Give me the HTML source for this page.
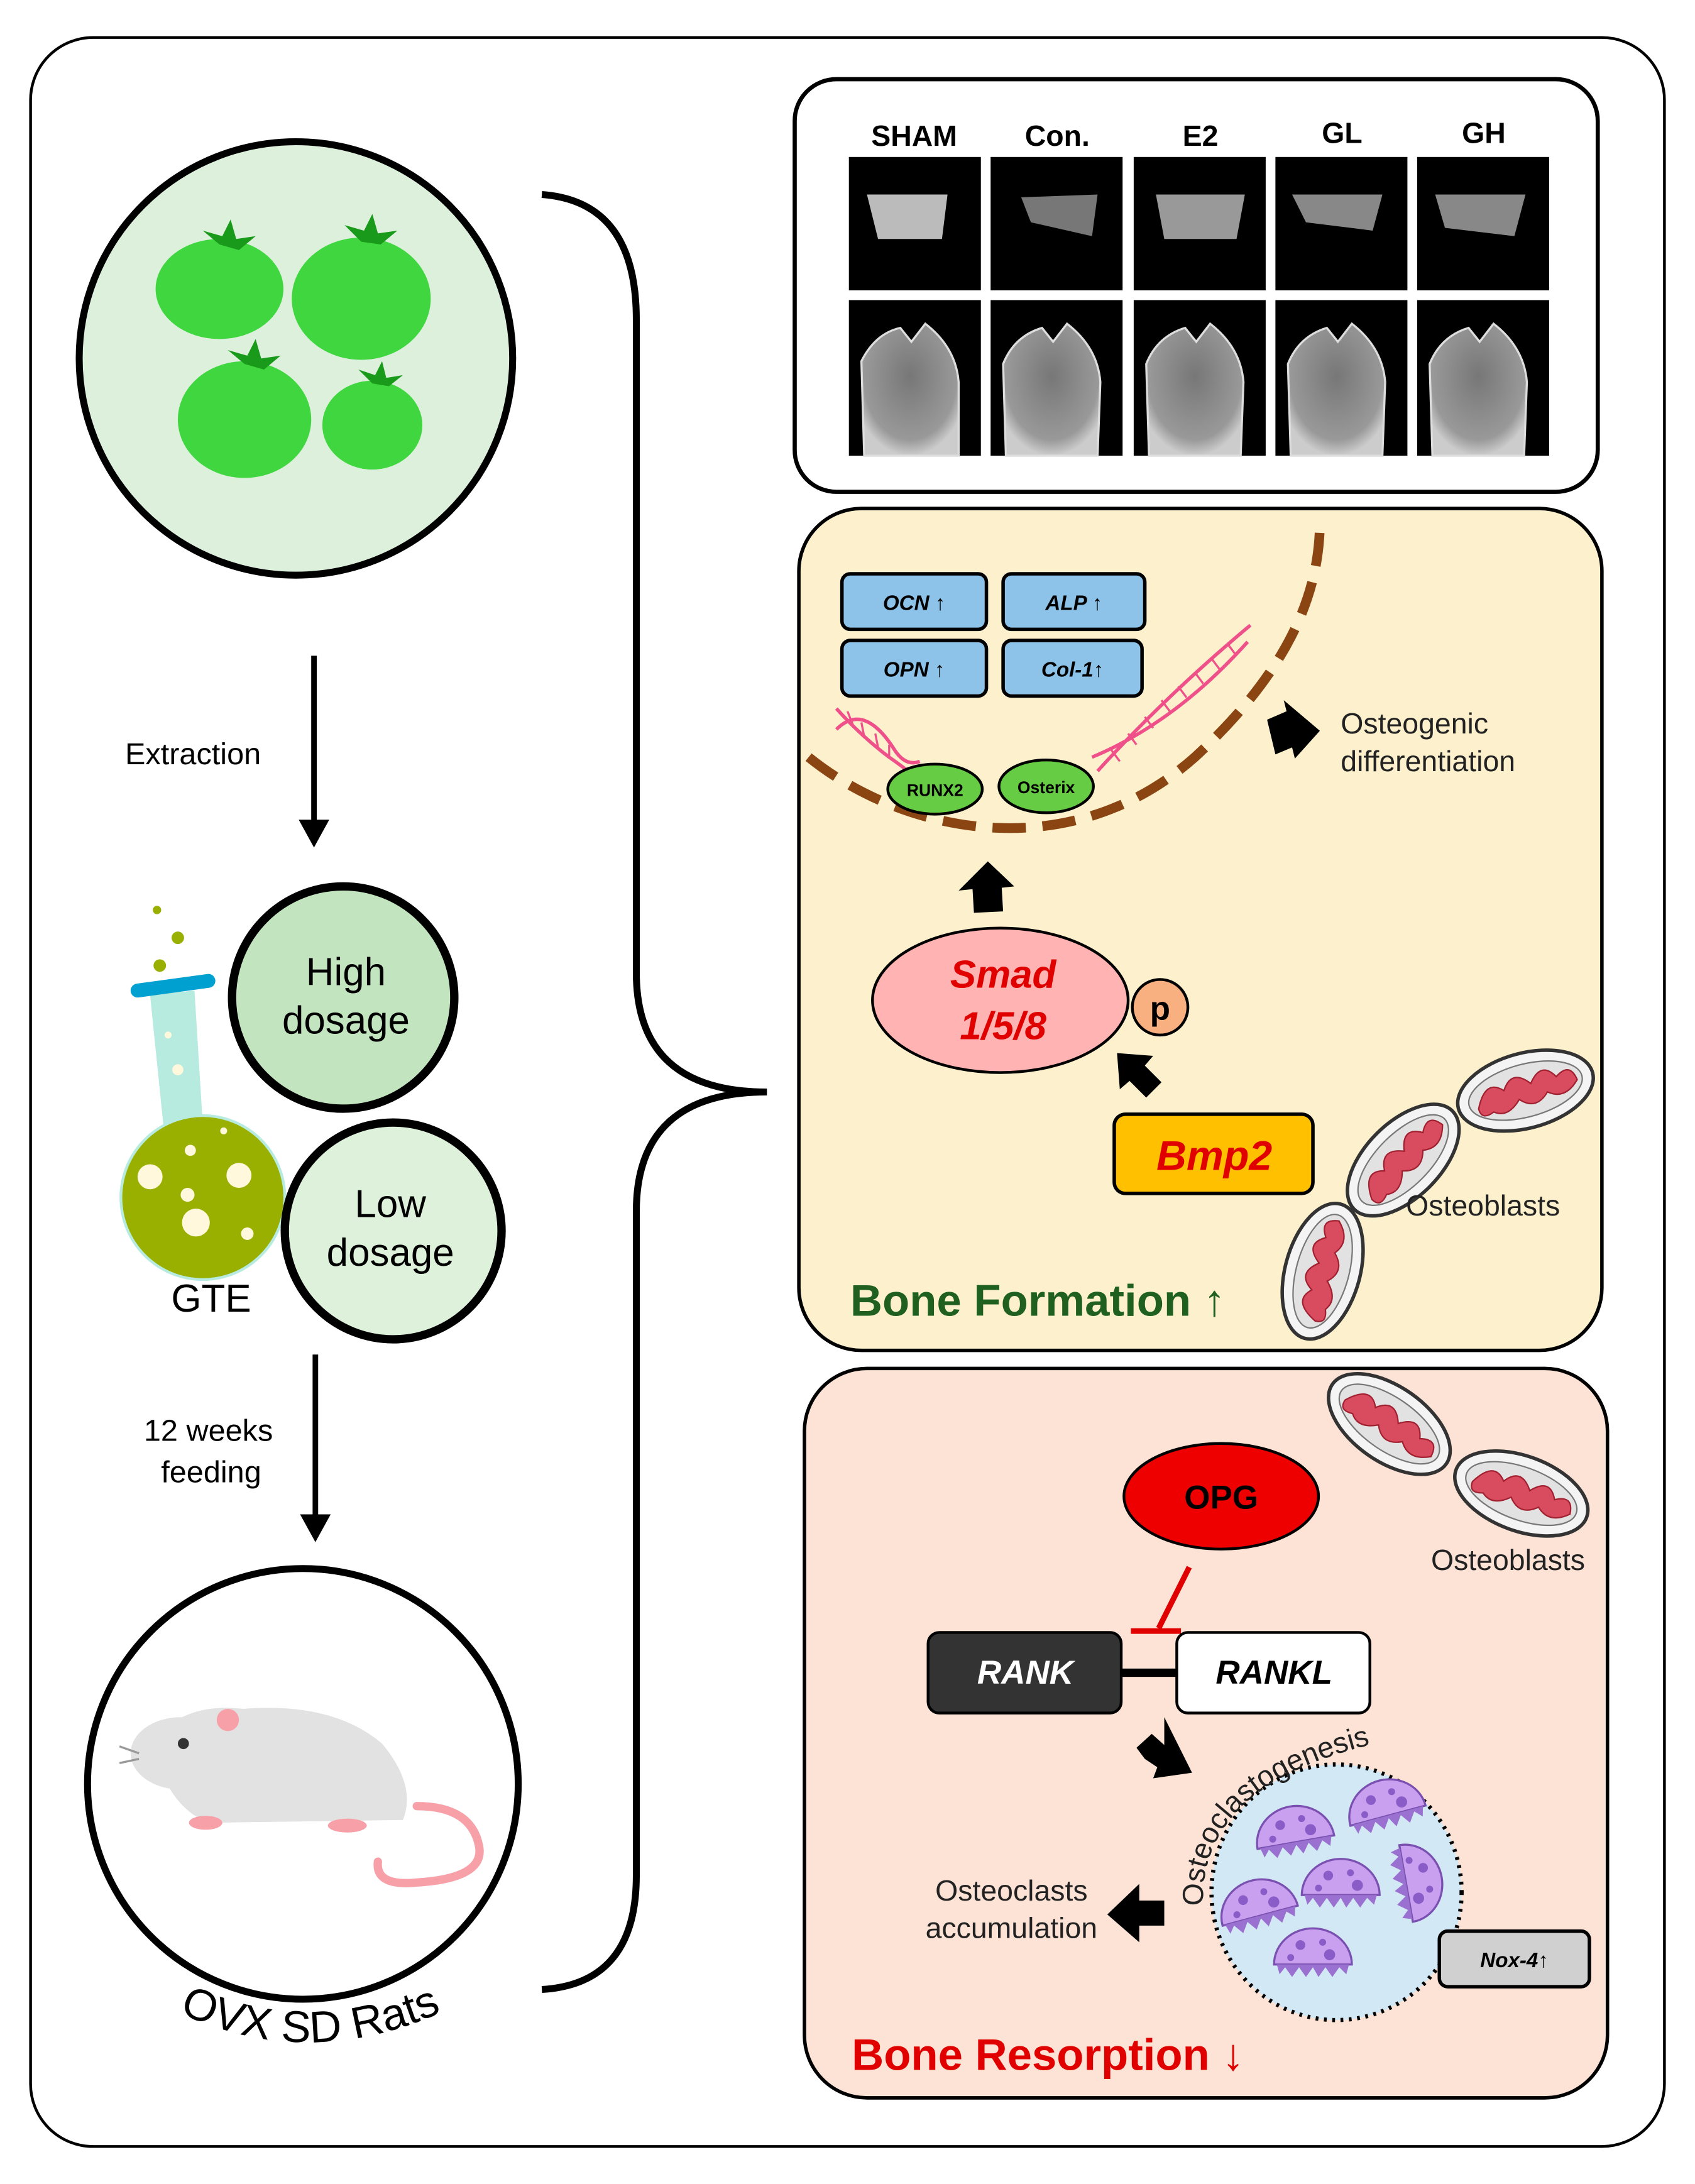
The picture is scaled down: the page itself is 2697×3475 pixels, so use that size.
<!DOCTYPE html>
<html><head><meta charset="utf-8"><style>
html,body{margin:0;padding:0;background:#fff}
svg{display:block}
text{font-family:"Liberation Sans",Arial,sans-serif}
</style></head><body>
<svg width="2697" height="3475" viewBox="0 0 1220 1572" preserveAspectRatio="none" xmlns="http://www.w3.org/2000/svg">
<defs>
<radialGradient id="bone" cx="50%" cy="40%" r="60%"><stop offset="0" stop-color="#777"/><stop offset="0.8" stop-color="#999"/><stop offset="1" stop-color="#ccc"/></radialGradient>
<g id="mito"><ellipse rx="50" ry="27" fill="#f4f4f4" stroke="#333" stroke-width="2.5"/><ellipse rx="42" ry="19" fill="#e2e2e2" stroke="#777" stroke-width="1"/><path d="M-36,4 Q-26,-16 -15,-4 Q-6,-18 5,-4 Q16,-18 24,-4 Q36,-12 38,2 Q26,14 15,5 Q4,16 -6,5 Q-17,16 -26,9 Q-36,13 -36,4Z" fill="#d94b5f" stroke="#a02030" stroke-width="1"/></g>
<g id="ocl"><path d="M-28,4 A28,26 0 0 1 28,4 Z" fill="#c9a0ef" stroke="#7a50b0" stroke-width="1.5"/><path d="M-26,4 L26,4 L24,11 L19,6 L14,13 L9,6 L4,13 L0,6 L-5,13 L-10,6 L-15,13 L-20,6 L-24,11Z" fill="#9a70d0"/><circle cx="-9" cy="-10" r="3.5" fill="#8a5cc8"/><circle cx="7" cy="-12" r="2.5" fill="#8a5cc8"/><circle cx="12" cy="-3" r="4" fill="#8a5cc8"/><circle cx="-16" cy="-1" r="2.5" fill="#8a5cc8"/></g>
<clipPath id="bulb"><circle cx="146" cy="862" r="58"/></clipPath>
</defs>
<rect x="22" y="27" width="1176" height="1518" rx="45" fill="#fff" stroke="#000" stroke-width="2"/>

<circle cx="213" cy="258" r="156" fill="#dcf0dc" stroke="#000" stroke-width="5"/>
<g fill="#3fd63f"><ellipse cx="158" cy="208" rx="46" ry="36"/><ellipse cx="260" cy="215" rx="50" ry="44"/><ellipse cx="176" cy="302" rx="48" ry="42"/><ellipse cx="268" cy="306" rx="36" ry="32"/></g>
<g fill="#1a9a1a"><path d="M158,176 l-12,-10 l14,4 l6,-12 l4,14 l14,-2 l-12,10z"/><path d="M260,174 l-12,-12 l14,4 l6,-12 l4,14 l14,-2 l-12,10z"/><path d="M176,262 l-12,-10 l14,4 l6,-12 l4,14 l14,-2 l-12,10z"/><path d="M268,276 l-10,-10 l12,4 l5,-10 l3,12 l12,-2 l-10,8z"/></g>

<line x1="226" y1="472" x2="226" y2="592" stroke="#000" stroke-width="4"/>
<path d="M215,590 L237,590 L226,610Z" fill="#000"/>
<text x="90" y="550" font-size="22">Extraction</text>

<circle cx="113" cy="655" r="3" fill="#9ab000"/><circle cx="128" cy="675" r="4.5" fill="#9ab000"/><circle cx="115" cy="695" r="4.5" fill="#9ab000"/>
<path d="M108,716 L140,713 L146,810 L118,814Z" fill="#b8ebe0"/>
<circle cx="146" cy="862" r="60" fill="#b8ebe0"/>
<g clip-path="url(#bulb)"><path d="M80,812 L210,795 L210,940 L80,940Z" fill="#9ab000"/></g>
<line x1="99" y1="713" x2="150" y2="706" stroke="#00a0d0" stroke-width="10" stroke-linecap="round"/>
<g fill="#fff8dc"><circle cx="108" cy="847" r="9"/><circle cx="172" cy="846" r="9"/><circle cx="141" cy="880" r="10"/><circle cx="137" cy="828" r="4"/><circle cx="135" cy="860" r="5"/><circle cx="178" cy="888" r="4.5"/><circle cx="161" cy="814" r="2.5"/><circle cx="128" cy="770" r="4"/><circle cx="121" cy="745" r="2.5"/></g>
<text x="152" y="944" font-size="28" text-anchor="middle">GTE</text>
<circle cx="247" cy="718" r="80" fill="#c2e4bf" stroke="#000" stroke-width="6"/>
<text x="249" y="709" font-size="28" text-anchor="middle">High</text><text x="249" y="744" font-size="28" text-anchor="middle">dosage</text>
<circle cx="283" cy="886" r="78" fill="#def1db" stroke="#000" stroke-width="6"/>
<text x="281" y="876" font-size="28" text-anchor="middle">Low</text><text x="281" y="911" font-size="28" text-anchor="middle">dosage</text>

<line x1="227" y1="975" x2="227" y2="1092" stroke="#000" stroke-width="4"/>
<path d="M216,1090 L238,1090 L227,1110Z" fill="#000"/>
<text x="150" y="1037" font-size="22" text-anchor="middle">12 weeks</text>
<text x="152" y="1067" font-size="22" text-anchor="middle">feeding</text>

<circle cx="218" cy="1284" r="155" fill="#fff" stroke="#000" stroke-width="5"/>
<path d="M300,1300 Q340,1300 345,1330 Q348,1352 300,1355 Q270,1358 272,1340" fill="none" stroke="#f8a0a8" stroke-width="6" stroke-linecap="round"/>
<path d="M110,1255 Q130,1225 175,1230 Q240,1225 275,1255 Q300,1285 290,1310 L150,1312 Q120,1300 110,1255Z" fill="#e2e2e2"/>
<ellipse cx="130" cy="1262" rx="36" ry="26" fill="#e2e2e2"/>
<circle cx="164" cy="1238" r="8" fill="#f8a0a8"/><circle cx="132" cy="1255" r="4" fill="#333"/>
<ellipse cx="148" cy="1312" rx="12" ry="5" fill="#f8a0a8"/><ellipse cx="250" cy="1314" rx="14" ry="5" fill="#f8a0a8"/>
<path d="M100,1262 l-14,-5 M100,1266 l-14,3" stroke="#999" stroke-width="1.5"/>
<path id="ratarc" d="M112,1440 Q220,1500 335,1440" fill="none"/>
<text font-size="32"><textPath href="#ratarc" startOffset="50%" text-anchor="middle">OVX SD Rats</textPath></text>

<path d="M390,140 Q458,145 458,230 L458,700 Q458,786 552,786 Q458,786 458,872 L458,1350 Q458,1428 390,1432" fill="none" stroke="#000" stroke-width="5"/>

<rect x="572" y="57" width="578" height="297" rx="30" fill="#fff" stroke="#000" stroke-width="3"/>
<g font-size="21" font-weight="bold" text-anchor="middle"><text x="658" y="105">SHAM</text><text x="761" y="105">Con.</text><text x="864" y="105">E2</text><text x="966" y="103">GL</text><text x="1068" y="103">GH</text></g>
<g>
<rect x="611" y="113" width="95" height="96" fill="#000"/><rect x="713" y="113" width="95" height="96" fill="#000"/><rect x="816" y="113" width="95" height="96" fill="#000"/><rect x="918" y="113" width="95" height="96" fill="#000"/><rect x="1020" y="113" width="95" height="96" fill="#000"/>
<path d="M624,140 L682,140 L678,172 L632,172Z" fill="#bbb"/>
<path d="M735,142 L790,140 L786,170 L742,160Z" fill="#777"/>
<path d="M832,140 L896,140 L890,172 L838,172Z" fill="#999"/>
<path d="M930,140 L995,140 L988,166 L940,160Z" fill="#888"/>
<path d="M1033,140 L1098,140 L1090,170 L1040,164Z" fill="#888"/>
<rect x="611" y="216" width="95" height="112" fill="#000"/><rect x="713" y="216" width="95" height="112" fill="#000"/><rect x="816" y="216" width="95" height="112" fill="#000"/><rect x="918" y="216" width="95" height="112" fill="#000"/><rect x="1020" y="216" width="95" height="112" fill="#000"/>
<path d="M622,328 L620,260 Q630,240 648,236 L656,246 L666,233 Q688,250 690,275 L690,328Z" fill="url(#bone)" stroke="#ddd" stroke-width="1.5"/>
<path d="M724,328 L722,262 Q730,242 750,236 L758,246 L768,233 Q790,250 792,275 L790,328Z" fill="url(#bone)" stroke="#ddd" stroke-width="1.5"/>
<path d="M827,328 L825,262 Q833,242 853,236 L861,246 L871,233 Q893,250 895,275 L893,328Z" fill="url(#bone)" stroke="#ddd" stroke-width="1.5"/>
<path d="M929,328 L927,262 Q935,242 955,236 L963,246 L973,233 Q995,250 997,275 L995,328Z" fill="url(#bone)" stroke="#ddd" stroke-width="1.5"/>
<path d="M1031,328 L1029,262 Q1037,242 1057,236 L1065,246 L1075,233 Q1097,250 1099,275 L1097,328Z" fill="url(#bone)" stroke="#ddd" stroke-width="1.5"/>
</g>

<rect x="575" y="366" width="578" height="606" rx="45" fill="#fdf0cc" stroke="#000" stroke-width="2.5"/>
<path d="M582,545 C650,600 770,625 860,545 C925,485 950,430 950,375" fill="none" stroke="#8b4513" stroke-width="7" stroke-dasharray="24 12"/>
<g stroke="#000" stroke-width="2.5" fill="#8dc3e8"><rect x="606" y="413" width="104" height="40" rx="6"/><rect x="722" y="413" width="102" height="40" rx="6"/><rect x="606" y="461" width="104" height="40" rx="6"/><rect x="722" y="461" width="100" height="40" rx="6"/></g>
<g font-size="15" font-weight="bold" font-style="italic" text-anchor="middle"><text x="658" y="439">OCN ↑</text><text x="773" y="439">ALP ↑</text><text x="658" y="487">OPN ↑</text><text x="772" y="487">Col-1↑</text></g>
<g stroke="#f0508a" stroke-width="2.5" fill="none">
<path d="M602,510 Q620,530 640,545 Q650,552 660,560"/><path d="M602,525 Q622,505 644,540 Q652,552 662,548"/>
<path d="M790,555 Q840,500 900,450"/><path d="M786,545 Q846,520 898,462"/>
</g>
<g stroke="#f0508a" stroke-width="1.5"><path d="M610,512 l4,10 M620,520 l2,10 M630,528 l2,10 M640,536 l0,10 M800,540 l6,8 M812,528 l6,8 M824,516 l6,8 M836,504 l6,8 M848,494 l6,8 M860,484 l6,8 M872,474 l6,8 M884,464 l6,8"/></g>
<ellipse cx="673" cy="568" rx="34" ry="18" fill="#66cc44" stroke="#000" stroke-width="2"/>
<ellipse cx="753" cy="566" rx="34" ry="19" fill="#66cc44" stroke="#000" stroke-width="2"/>
<text x="673" y="573" font-size="12" font-weight="bold" text-anchor="middle">RUNX2</text>
<text x="753" y="571" font-size="12" font-weight="bold" text-anchor="middle">Osterix</text>
<path d="M912,518 L926,512 L924,504 L950,526 L932,546 L930,538 L918,543Z" fill="#000"/>
<text x="965" y="528" font-size="21" fill="#222">Osteogenic</text>
<text x="965" y="555" font-size="21" fill="#222">differentiation</text>
<path d="M701,657 L700,640 L690,641 L711,620 L730,638 L721,639 L722,656Z" fill="#000"/>
<ellipse cx="720" cy="720" rx="92" ry="52" fill="#ffb3b3" stroke="#000" stroke-width="2"/>
<text x="722" y="711" font-size="28" font-weight="bold" font-style="italic" fill="#e00000" text-anchor="middle">Smad</text>
<text x="722" y="748" font-size="28" font-weight="bold" font-style="italic" fill="#e00000" text-anchor="middle">1/5/8</text>
<circle cx="835" cy="725" r="20" fill="#f8b080" stroke="#000" stroke-width="2"/>
<text x="835" y="734" font-size="24" font-weight="bold" text-anchor="middle">p</text>
<path d="M825,790 L813,778 L806,784 L804,758 L830,760 L824,767 L836,779Z" fill="#000"/>
<rect x="802" y="802" width="143" height="57" rx="8" fill="#ffc000" stroke="#000" stroke-width="2.5"/>
<text x="874" y="842" font-size="30" font-weight="bold" font-style="italic" fill="#e00000" text-anchor="middle">Bmp2</text>
<use href="#mito" transform="translate(1098,785) rotate(-15)"/>
<use href="#mito" transform="translate(1010,835) rotate(-45)"/>
<use href="#mito" transform="translate(952,915) rotate(-75)"/>
<text x="1012" y="875" font-size="21" fill="#222">Osteoblasts</text>
<text x="612" y="947" font-size="32" font-weight="bold" fill="#1f5f1f">Bone Formation ↑</text>

<rect x="579" y="985" width="578" height="525" rx="45" fill="#fde3d5" stroke="#000" stroke-width="2.5"/>
<use href="#mito" transform="translate(1000,1025) rotate(35)"/>
<use href="#mito" transform="translate(1095,1075) rotate(20)"/>
<text x="1030" y="1130" font-size="21" fill="#222">Osteoblasts</text>
<ellipse cx="879" cy="1077" rx="70" ry="38" fill="#ee0000" stroke="#000" stroke-width="2"/>
<text x="879" y="1086" font-size="24" font-weight="bold" text-anchor="middle">OPG</text>
<line x1="856" y1="1128" x2="834" y2="1172" stroke="#e00000" stroke-width="4"/>
<line x1="814" y1="1174" x2="850" y2="1174" stroke="#e00000" stroke-width="4"/>
<line x1="805" y1="1204" x2="850" y2="1204" stroke="#000" stroke-width="6"/>
<rect x="668" y="1175" width="139" height="58" rx="8" fill="#333" stroke="#000" stroke-width="2"/>
<rect x="847" y="1175" width="139" height="58" rx="8" fill="#fff" stroke="#000" stroke-width="2"/>
<text x="738" y="1212" font-size="24" font-weight="bold" font-style="italic" fill="#fff" text-anchor="middle">RANK</text>
<text x="917" y="1212" font-size="24" font-weight="bold" font-style="italic" text-anchor="middle">RANKL</text>
<path d="M818,1258 L829,1248 L838,1256 L838,1236 L858,1276 L830,1280 L833,1272 L824,1266Z" fill="#000"/>
<ellipse cx="962" cy="1362" rx="90" ry="92" fill="#d2e8f5" stroke="#000" stroke-width="3" stroke-dasharray="2 4"/>
<path id="oarc" d="M866,1372 Q862,1285 990,1255" fill="none"/>
<text font-size="21" fill="#222"><textPath href="#oarc">Osteoclastogenesis</textPath></text>
<use href="#ocl" transform="translate(932,1322) rotate(-10)"/>
<use href="#ocl" transform="translate(998,1303) rotate(-15)"/>
<use href="#ocl" transform="translate(965,1360)"/>
<use href="#ocl" transform="translate(1016,1355) rotate(80)"/>
<use href="#ocl" transform="translate(906,1375) rotate(-15)"/>
<use href="#ocl" transform="translate(945,1410)"/>
<path d="M838,1368 L820,1368 L820,1356 L797,1378 L820,1398 L820,1386 L838,1386Z" fill="#000"/>
<text x="728" y="1368" font-size="21" fill="#222" text-anchor="middle">Osteoclasts</text>
<text x="728" y="1395" font-size="21" fill="#222" text-anchor="middle">accumulation</text>
<rect x="1036" y="1390" width="108" height="40" rx="6" fill="#d0d0d0" stroke="#000" stroke-width="2.5"/>
<text x="1090" y="1416" font-size="15" font-weight="bold" font-style="italic" text-anchor="middle">Nox-4↑</text>
<text x="613" y="1490" font-size="32" font-weight="bold" fill="#e00000">Bone Resorption ↓</text>
</svg>
</body></html>
